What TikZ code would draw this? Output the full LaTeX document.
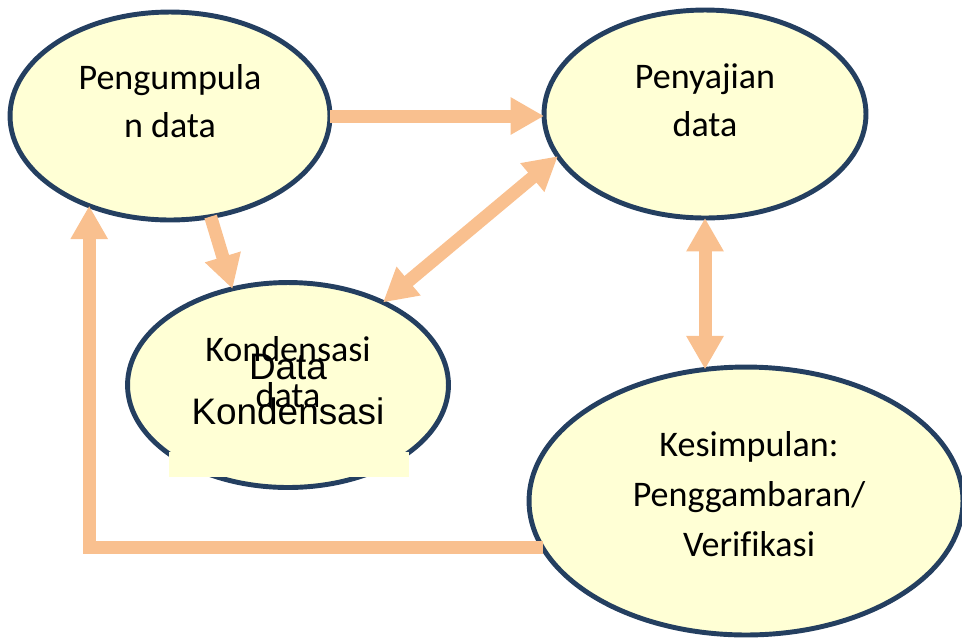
\documentclass[tikz,border=0pt]{standalone}
\usepackage{fontspec}
\setmainfont{Carlito}[Ligatures=CommonOff]
\newfontfamily\arialfont{Liberation Sans}
\usetikzlibrary{arrows.meta, shapes.geometric}
\definecolor{stagefill}{HTML}{FFFFD5}
\definecolor{stageline}{HTML}{243F60}
\definecolor{flowcol}{HTML}{F9C08F}

\begin{document}
\begin{tikzpicture}[x=0.02cm, y=-0.02cm,
        stage/.style={ellipse, draw=stageline, fill=stagefill, line width=2.8pt, inner sep=0pt, outer sep=0pt},
        stagetext/.style={align=center, font=\fontsize{20.5}{27.2}\selectfont},
        flow/.style={draw=flowcol, line width=7.4pt, -{Triangle[width=20pt, length=19pt]}},
        flowboth/.style={flow, {Triangle[width=20pt, length=19pt]}-{Triangle[width=20pt, length=19pt]}}
    ]
        \useasboundingbox (0,0) rectangle (962,637);

        % tahap analisis
        \node [stage, minimum width=6.4cm, minimum height=4.16cm] (kumpul) at (170,116) {};
        \node [stage, minimum width=6.44cm, minimum height=4.16cm] (saji) at (705,114) {};
        \node [stage, minimum width=6.42cm, minimum height=4.1cm] (kondensasi) at (288,385) {};
        \node [stage, minimum width=8.68cm, minimum height=5.36cm] (simpul) at (746,501) {};
        \fill [stagefill] (169,452) rectangle (409,477);

        % teks
        \node [stagetext] (kumpulteks) at (170,101) {Pengumpula\\n data};
        \node [stagetext] (sajiteks) at (705,100) {Penyajian\\data};
        \node [stagetext, font=\fontsize{20.5}{28.5}\selectfont] (simpulteks) at (749,494) {Kesimpulan:\\Penggambaran/\\Verifikasi};
        \node [stagetext, font=\fontsize{20.5}{26}\selectfont] (kondensasiteks) at (288,372) {Kondensasi\\data};
        \node [align=center, font=\arialfont\fontsize{21}{25.6}\selectfont] (kondensasijudul) at (288,389) {Data\\Kondensasi};

        % alur
        \draw [flow] (kumpul.east) -- (kumpul.east -| saji.west);
        \draw [flow] (kumpul.-68) -- (kondensasi.120);
        \draw [flowboth] (saji.196) -- (kondensasi.41);
        \draw [flowboth] (saji.south) -- (saji.south |- simpul.107);
        \draw [flow] (simpul.193.6) -| (kumpul.228);
    \end{tikzpicture}
\end{document}
